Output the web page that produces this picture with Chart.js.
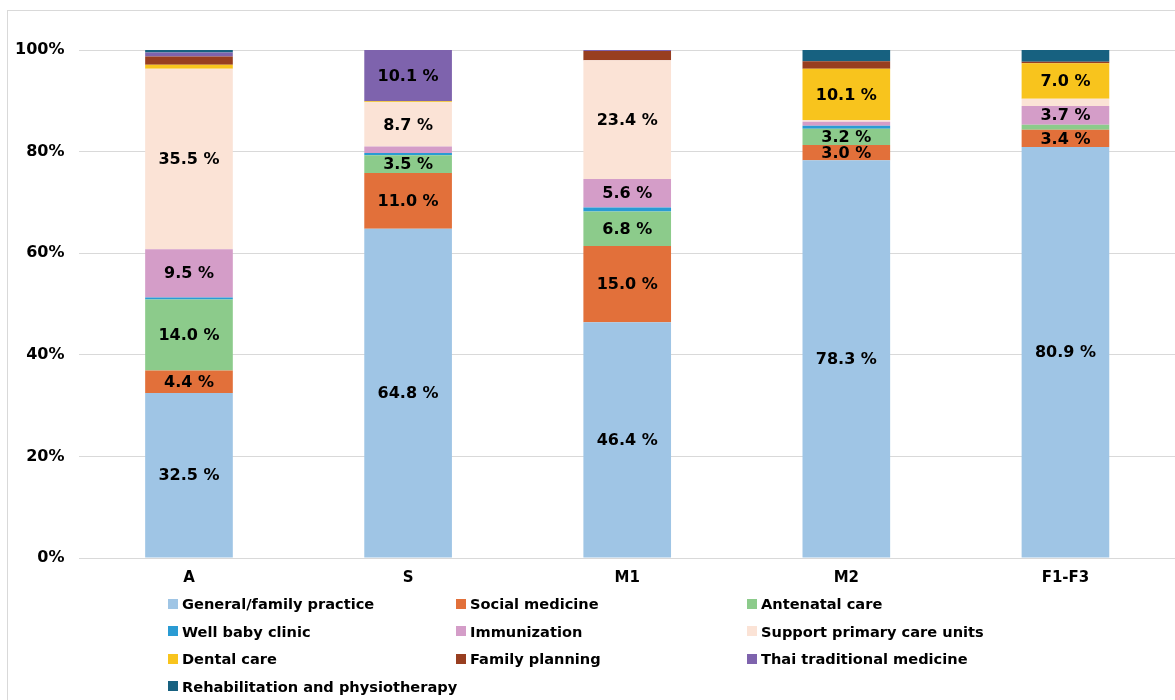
<!DOCTYPE html>
<html>
<head>
<meta charset="utf-8">
<script src="https://cdn.jsdelivr.net/npm/chart.js@4"></script>
<style>
  body { margin: 0; background: #fff; font-family: "DejaVu Sans", Verdana, sans-serif; }
  #wrap { position: relative; width: 1175px; height: 700px; overflow: hidden; }
  #frame { position: absolute; left: 7px; top: 10px; width: 1200px; height: 720px; border: 1px solid #d9d9d9; }
  #chartBox { position: absolute; left: 0; top: 0; width: 1175px; height: 700px; }
  #legend { position: absolute; left: 168px; top: 590px; display: grid; grid-template-columns: 288px 291px 300px; row-gap: 0; }
  .item { display: flex; align-items: center; height: 27.5px; font-weight: bold; font-size: 14.6px; color: #000; white-space: nowrap; }
  .sw { width: 10px; height: 10px; margin-right: 4px; flex: none; }
</style>
</head>
<body>
<div id="wrap">
  <div id="frame"></div>
  <div id="chartBox"><canvas id="trainingChart" width="1175" height="700"></canvas></div>
  <div id="legend"></div>
</div>
<script>
const groups = ['A', 'S', 'M1', 'M2', 'F1-F3'];

const generalPractice = [32.5, 64.8, 46.4, 78.3, 80.9];
const socialMedicine  = [4.4, 11.0, 15.0, 3.0, 3.4];
const antenatalCare   = [14.0, 3.5, 6.8, 3.2, 1.0];
const wellBaby        = [0.4, 0.4, 0.8, 0.6, 0.0];
const immunization    = [9.5, 1.3, 5.6, 0.8, 3.7];
const supportPCU      = [35.5, 8.7, 23.4, 0.3, 1.4];
const dentalCare      = [0.8, 0.2, 0.0, 10.1, 7.0];
const familyPlanning  = [1.6, 0.0, 1.8, 1.5, 0.3];
const thaiMedicine    = [0.8, 10.1, 0.2, 0.0, 0.0];
const rehabPhysio     = [0.5, 0.0, 0.0, 2.2, 2.3];

const yTicks = ['0%', '20%', '40%', '60%', '80%', '100%'];

const seriesNames = ['General/family practice', 'Social medicine', 'Antenatal care',
  'Well baby clinic', 'Immunization', 'Support primary care units',
  'Dental care', 'Family planning', 'Thai traditional medicine',
  'Rehabilitation and physiotherapy'];
const seriesValues = [generalPractice, socialMedicine, antenatalCare, wellBaby, immunization,
  supportPCU, dentalCare, familyPlanning, thaiMedicine, rehabPhysio];
const seriesColors = ['#9fc5e5', '#e2703a', '#8ccb8b', '#2a9bd3', '#d49dc8',
  '#fbe3d6', '#f8c41d', '#983e20', '#7e63ad', '#176180'];

const FONT = '"DejaVu Sans", Verdana, sans-serif';

// draw the % labels inside segments (>= 3 %)
const segmentLabels = {
  id: 'segmentLabels',
  afterDatasetsDraw(chart) {
    const ctx = chart.ctx;
    ctx.save();
    ctx.font = 'bold 16px ' + FONT;
    ctx.fillStyle = '#000';
    ctx.textAlign = 'center';
    ctx.textBaseline = 'middle';
    chart.data.datasets.forEach((ds, i) => {
      const meta = chart.getDatasetMeta(i);
      meta.data.forEach((bar, j) => {
        const v = ds.data[j];
        if (v < 3) return;
        const p = bar.getProps(['x', 'y', 'base'], true);
        ctx.fillText(v.toFixed(1) + ' %', p.x, (p.y + p.base) / 2 + 1);
      });
    });
    ctx.restore();
  }
};

const ctx = document.getElementById('trainingChart').getContext('2d');

const chart = new Chart(ctx, {
  type: 'bar',
  data: {
    labels: groups,
    datasets: seriesNames.map((name, i) => ({
      label: name,
      data: seriesValues[i],
      backgroundColor: seriesColors[i],
      borderWidth: 0,
      barPercentage: 0.4,
      categoryPercentage: 1.0
    }))
  },
  options: {
    responsive: false,
    animation: false,
    layout: { padding: { top: 50, bottom: 110, left: 0, right: 0 } },
    plugins: {
      legend: { display: false },
      tooltip: { enabled: false }
    },
    scales: {
      x: {
        stacked: true,
        grid: { display: false },
        border: { display: false },
        ticks: { color: '#000', font: { family: FONT, size: 15, weight: 'bold' }, padding: 3 }
      },
      y: {
        stacked: true,
        min: 0,
        max: 100,
        grid: { color: '#d9d9d9', drawTicks: false },
        border: { display: false },
        ticks: {
          stepSize: 20,
          padding: 15,
          color: '#000',
          font: { family: FONT, size: 16, weight: 'bold' },
          callback: (v) => yTicks[v / 20]
        }
      }
    }
  },
  plugins: [segmentLabels]
});

// html legend in three columns, built from the chart's datasets
const legendEl = document.getElementById('legend');
chart.data.datasets.forEach(ds => {
  const item = document.createElement('div');
  item.className = 'item';
  const sw = document.createElement('span');
  sw.className = 'sw';
  sw.style.background = ds.backgroundColor;
  item.appendChild(sw);
  item.appendChild(document.createTextNode(ds.label));
  legendEl.appendChild(item);
});
</script>
</body>
</html>
